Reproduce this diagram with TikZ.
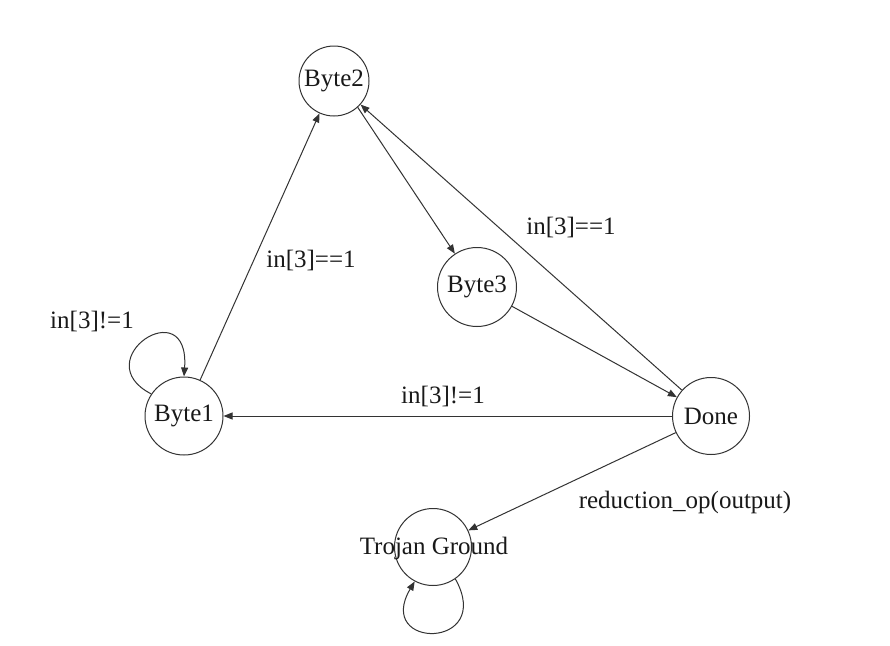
\documentclass[tikz,border=0pt]{standalone}
\usepackage{fontspec}
\setmainfont{Liberation Serif}
\newfontfamily\tnrfont{Liberation Serif}
\usetikzlibrary{arrows.meta}
\definecolor{ln}{HTML}{333333}
\begin{document}
\begin{tikzpicture}[x=1pt,y=-1pt,
  state/.style={circle,draw=ln,line width=1pt,inner sep=0pt,fill=white},
  txt/.style={font=\tnrfont\fontsize{25}{25}\selectfont,inner sep=0pt,text=black!90},
  edge/.style={draw=ln,line width=1pt,-{Triangle[length=9pt,width=7pt]}}]
\useasboundingbox[fill=white] (0,0) rectangle (890,645);
\node[state,txt,minimum size=70pt] (b2) at (334,81) {Byte2};
\node[state,txt,minimum size=79pt] (b3) at (477,287) {Byte3};
\node[state,txt,minimum size=78pt] (b1) at (184,416) {Byte1};
\node[state,txt,minimum size=77pt] (done) at (711,416) {Done};
\node[state,minimum size=77pt] (tg) at (433,547) {};
% edges
\draw[edge] (b1) -- (b2);
\draw[edge] (b2.-48) -- (b3);
\draw[edge] (b3) -- (done);
\draw[edge] (done) -- (b2);
\draw[edge] (done) -- (b1);
\draw[edge] (done) -- (tg);
\draw[edge] (b1.146) .. controls (85,360) and (190,290) .. (b1.90);
\draw[edge] (tg.-55) .. controls (495,650) and (374,650) .. (tg.-118);
% labels
\node[txt] (tgl) at (434,548) {Trojan Ground};
\node[txt] (l1) at (311,260) {in[3]==1};
\node[txt] (l2) at (571,227) {in[3]==1};
\node[txt] (l3) at (443,396) {in[3]!=1};
\node[txt] (l4) at (92,321) {in[3]!=1};
\node[txt] (l5) at (685,502) {reduction\_op(output)};
\end{tikzpicture}
\end{document}
